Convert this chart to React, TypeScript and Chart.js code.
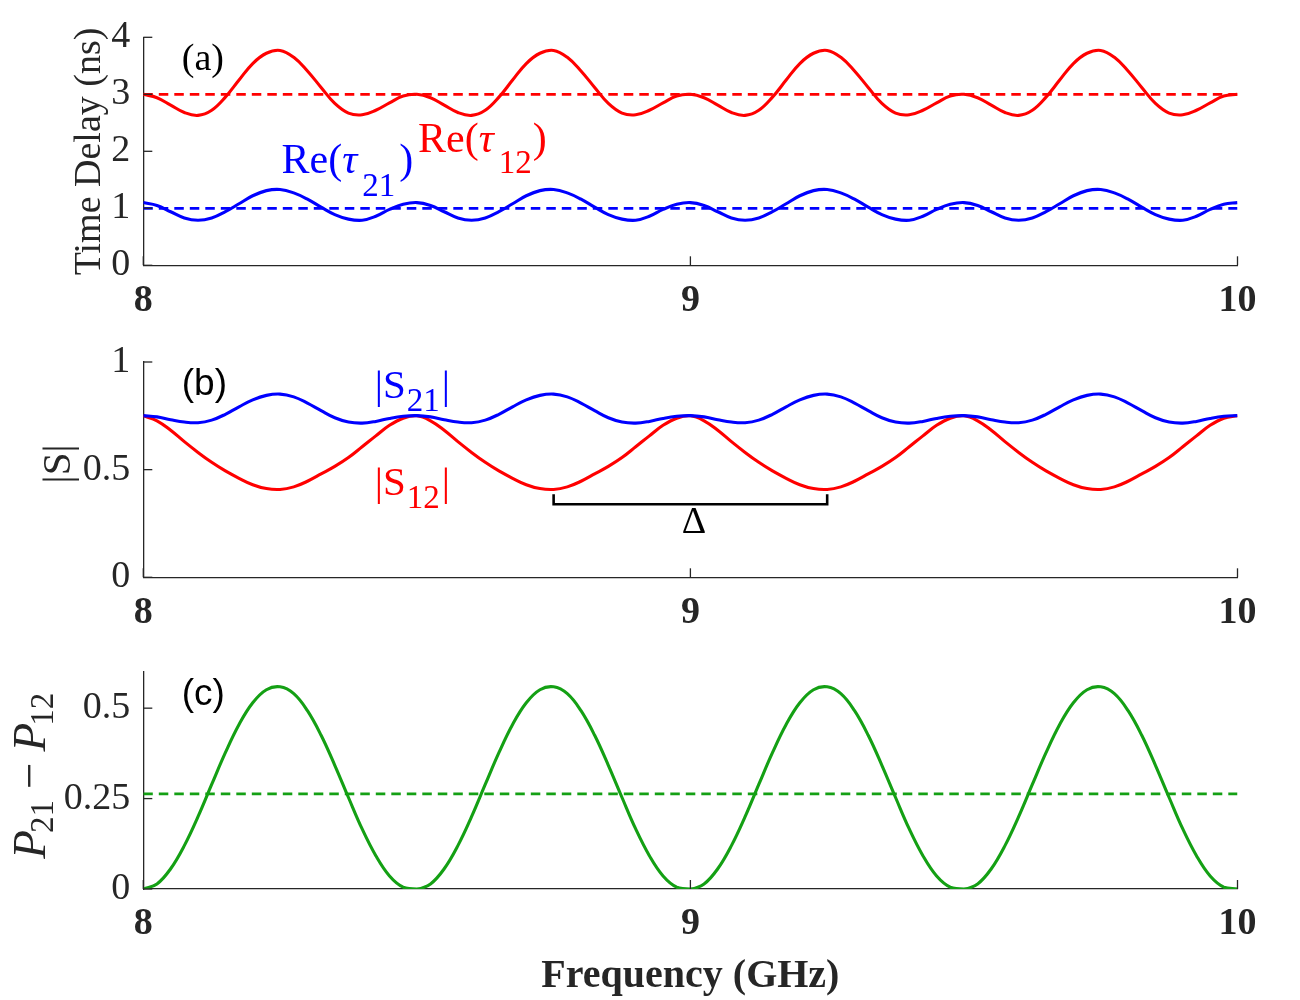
import React, { useEffect, useRef } from "react";
import { Chart, registerables } from "chart.js";

Chart.register(...registerables);

// ---------------- data ----------------
const FREQ = [
  8, 8.025, 8.05, 8.075, 8.1, 8.125, 8.15, 8.175, 8.2, 8.225,
  8.25, 8.275, 8.3, 8.325, 8.35, 8.375, 8.4, 8.425, 8.45, 8.475,
  8.5, 8.525, 8.55, 8.575, 8.6, 8.625, 8.65, 8.675, 8.7, 8.725,
  8.75, 8.775, 8.8, 8.825, 8.85, 8.875, 8.9, 8.925, 8.95, 8.975,
  9, 9.025, 9.05, 9.075, 9.1, 9.125, 9.15, 9.175, 9.2, 9.225,
  9.25, 9.275, 9.3, 9.325, 9.35, 9.375, 9.4, 9.425, 9.45, 9.475,
  9.5, 9.525, 9.55, 9.575, 9.6, 9.625, 9.65, 9.675, 9.7, 9.725,
  9.75, 9.775, 9.8, 9.825, 9.85, 9.875, 9.9, 9.925, 9.95, 9.975,
  10,
];

const TAU12 = [
  3.0, 2.94, 2.81, 2.68, 2.63, 2.72, 2.95, 3.25, 3.54, 3.72,
  3.77, 3.65, 3.41, 3.12, 2.84, 2.67, 2.64, 2.72, 2.85, 2.97,
  3.0, 2.94, 2.81, 2.68, 2.63, 2.72, 2.95, 3.25, 3.54, 3.72,
  3.77, 3.65, 3.41, 3.12, 2.84, 2.67, 2.64, 2.72, 2.85, 2.97,
  3.0, 2.94, 2.81, 2.68, 2.63, 2.72, 2.95, 3.25, 3.54, 3.72,
  3.77, 3.65, 3.41, 3.12, 2.84, 2.67, 2.64, 2.72, 2.85, 2.97,
  3.0, 2.94, 2.81, 2.68, 2.63, 2.72, 2.95, 3.25, 3.54, 3.72,
  3.77, 3.65, 3.41, 3.12, 2.84, 2.67, 2.64, 2.72, 2.85, 2.97,
  3.0,
];

const TAU21 = [
  1.1, 1.05, 0.94, 0.83, 0.79, 0.83, 0.94, 1.08, 1.22, 1.31,
  1.33, 1.27, 1.16, 1.02, 0.89, 0.81, 0.79, 0.86, 0.98, 1.07,
  1.1, 1.05, 0.94, 0.83, 0.79, 0.83, 0.94, 1.08, 1.22, 1.31,
  1.33, 1.27, 1.16, 1.02, 0.89, 0.81, 0.79, 0.86, 0.98, 1.07,
  1.1, 1.05, 0.94, 0.83, 0.79, 0.83, 0.94, 1.08, 1.22, 1.31,
  1.33, 1.27, 1.16, 1.02, 0.89, 0.81, 0.79, 0.86, 0.98, 1.07,
  1.1, 1.05, 0.94, 0.83, 0.79, 0.83, 0.94, 1.08, 1.22, 1.31,
  1.33, 1.27, 1.16, 1.02, 0.89, 0.81, 0.79, 0.86, 0.98, 1.07,
  1.1,
];

const S21 = [
  0.751, 0.745, 0.732, 0.721, 0.718, 0.73, 0.757, 0.792, 0.824, 0.845,
  0.851, 0.838, 0.809, 0.774, 0.741, 0.721, 0.716, 0.724, 0.738, 0.748,
  0.751, 0.745, 0.732, 0.721, 0.718, 0.73, 0.757, 0.792, 0.824, 0.845,
  0.851, 0.838, 0.809, 0.774, 0.741, 0.721, 0.716, 0.724, 0.738, 0.748,
  0.751, 0.745, 0.732, 0.721, 0.718, 0.73, 0.757, 0.792, 0.824, 0.845,
  0.851, 0.838, 0.809, 0.774, 0.741, 0.721, 0.716, 0.724, 0.738, 0.748,
  0.751, 0.745, 0.732, 0.721, 0.718, 0.73, 0.757, 0.792, 0.824, 0.845,
  0.851, 0.838, 0.809, 0.774, 0.741, 0.721, 0.716, 0.724, 0.738, 0.748,
  0.751,
];

const S12 = [
  0.75, 0.727, 0.683, 0.63, 0.58, 0.534, 0.494, 0.46, 0.43, 0.412,
  0.408, 0.42, 0.446, 0.48, 0.515, 0.556, 0.606, 0.657, 0.706, 0.739,
  0.75, 0.727, 0.683, 0.63, 0.58, 0.534, 0.494, 0.46, 0.43, 0.412,
  0.408, 0.42, 0.446, 0.48, 0.515, 0.556, 0.606, 0.657, 0.706, 0.739,
  0.75, 0.727, 0.683, 0.63, 0.58, 0.534, 0.494, 0.46, 0.43, 0.412,
  0.408, 0.42, 0.446, 0.48, 0.515, 0.556, 0.606, 0.657, 0.706, 0.739,
  0.75, 0.727, 0.683, 0.63, 0.58, 0.534, 0.494, 0.46, 0.43, 0.412,
  0.408, 0.42, 0.446, 0.48, 0.515, 0.556, 0.606, 0.657, 0.706, 0.739,
  0.75,
];

const PDIFF = [
  0, 0.014, 0.056, 0.12, 0.2, 0.289, 0.377, 0.455, 0.515, 0.551,
  0.559, 0.54, 0.493, 0.425, 0.342, 0.253, 0.166, 0.092, 0.036, 0.005,
  0, 0.014, 0.056, 0.12, 0.2, 0.289, 0.377, 0.455, 0.515, 0.551,
  0.559, 0.54, 0.493, 0.425, 0.342, 0.253, 0.166, 0.092, 0.036, 0.005,
  0, 0.014, 0.056, 0.12, 0.2, 0.289, 0.377, 0.455, 0.515, 0.551,
  0.559, 0.54, 0.493, 0.425, 0.342, 0.253, 0.166, 0.092, 0.036, 0.005,
  0, 0.014, 0.056, 0.12, 0.2, 0.289, 0.377, 0.455, 0.515, 0.551,
  0.559, 0.54, 0.493, 0.425, 0.342, 0.253, 0.166, 0.092, 0.036, 0.005,
  0,
];

const MEAN_X = [8, 10];
const TAU12_MEAN = [3, 3];
const TAU21_MEAN = [1, 1];
const PDIFF_MEAN = [0.263, 0.263];

const DELTA_X = [8.75, 8.75, 9.25, 9.25];
const DELTA_Y = [0.386, 0.339, 0.339, 0.386];

const X_TICKS = [8, 9, 10];
const TAU_TICKS = [0, 1, 2, 3, 4];
const S_TICKS = [0, 0.5, 1];
const P_TICKS = [0, 0.25, 0.5];

// ---------------- styles ----------------
const SERIF = "'Liberation Serif', 'Times New Roman', Times, serif";
const SANS = "'Liberation Sans', Arial, Helvetica, sans-serif";
const AXIS = "#262626";
const RED = "#ff0000";
const BLUE = "#0000ff";
const GREEN = "#14a014";
const BLACK = "#000000";

type Part = { t: string; font: string; color: string; dy?: number; gap?: number };
type Note = { x: number; y: number; parts: Part[]; center?: boolean };
type Deco = {
  notes: Note[];
  yTitle: { x: number; y: number; parts: Part[] };
  xTitle?: { y: number; parts: Part[] };
};

const f = (size: number, opts: { italic?: boolean; bold?: boolean; fam?: string } = {}) =>
  `${opts.italic ? "italic " : ""}${opts.bold ? "bold " : ""}${size}px ${opts.fam || SERIF}`;

function drawRich(ctx: CanvasRenderingContext2D, x: number, y: number, parts: Part[], center?: boolean) {
  let total = 0;
  const ws = parts.map((p) => {
    ctx.font = p.font;
    const w = ctx.measureText(p.t).width + (p.gap || 0);
    total += w;
    return w;
  });
  let cx = center ? x - total / 2 : x;
  parts.forEach((p, i) => {
    ctx.font = p.font;
    ctx.fillStyle = p.color;
    ctx.fillText(p.t, cx + (p.gap || 0), y + (p.dy || 0));
    cx += ws[i];
  });
}

function decoPlugin(deco: Deco) {
  return {
    id: "deco",
    afterDraw(chart: any) {
      const { ctx, chartArea: ca, scales } = chart;
      const xs = scales.x;
      const ys = scales.y;
      ctx.save();
      ctx.strokeStyle = AXIS;
      ctx.lineWidth = 1.3;
      xs.ticks.forEach((t: any) => {
        const px = xs.getPixelForValue(t.value);
        ctx.beginPath();
        ctx.moveTo(px, ca.bottom);
        ctx.lineTo(px, ca.bottom - 9);
        ctx.stroke();
      });
      ys.ticks.forEach((t: any) => {
        const py = ys.getPixelForValue(t.value);
        ctx.beginPath();
        ctx.moveTo(ca.left, py);
        ctx.lineTo(ca.left + 9, py);
        ctx.stroke();
      });
      ctx.textAlign = "left";
      ctx.textBaseline = "alphabetic";
      deco.notes.forEach((n) =>
        drawRich(ctx, xs.getPixelForValue(n.x), ys.getPixelForValue(n.y), n.parts, n.center)
      );
      const yt = deco.yTitle;
      ctx.save();
      ctx.translate(yt.x, yt.y);
      ctx.rotate(-Math.PI / 2);
      drawRich(ctx, 0, 0, yt.parts, true);
      ctx.restore();
      if (deco.xTitle) {
        drawRich(ctx, (ca.left + ca.right) / 2, deco.xTitle.y, deco.xTitle.parts, true);
      }
      ctx.restore();
    },
  };
}

const pts = (xs: number[], ys: number[]) => xs.map((x, i) => ({ x, y: ys[i] }));

const curve = (label: string, ys: number[], color: string) => ({
  label,
  data: pts(FREQ, ys),
  borderColor: color,
  backgroundColor: color,
  borderWidth: 3.1,
  pointRadius: 0,
  showLine: true,
  fill: false,
  tension: 0.4,
  borderJoinStyle: "round" as const,
});

const meanLine = (label: string, ys: number[], color: string) => ({
  label,
  data: pts(MEAN_X, ys),
  borderColor: color,
  backgroundColor: color,
  borderWidth: 2.8,
  borderDash: [9.5, 6],
  pointRadius: 0,
  showLine: true,
  fill: false,
});

function makeConfig(
  datasets: any[],
  yMin: number,
  yMax: number,
  yTicks: number[],
  padTop: number,
  xH: number,
  deco: Deco
): any {
  return {
    type: "scatter",
    data: { datasets },
    options: {
      responsive: false,
      animation: false,
      events: [],
      layout: { padding: { left: 0, right: 62.5, top: padTop, bottom: 0 } },
      plugins: { legend: { display: false }, tooltip: { enabled: false } },
      scales: {
        x: {
          type: "linear",
          min: 8,
          max: 10,
          afterBuildTicks: (s: any) => {
            s.ticks = X_TICKS.map((v) => ({ value: v }));
          },
          afterFit: (s: any) => {
            s.height = xH;
          },
          grid: { display: false, drawTicks: false },
          border: { display: true, color: AXIS, width: 1.3 },
          ticks: {
            color: AXIS,
            padding: 16.5,
            maxRotation: 0,
            autoSkip: false,
            font: { family: SERIF, size: 38, weight: "bold", lineHeight: 1 },
            callback: (v: any) => String(v),
          },
        },
        y: {
          type: "linear",
          min: yMin,
          max: yMax,
          afterBuildTicks: (s: any) => {
            s.ticks = yTicks.map((v) => ({ value: v }));
          },
          afterFit: (s: any) => {
            s.width = 143.3;
          },
          grid: { display: false, drawTicks: false },
          border: { display: true, color: AXIS, width: 1.3 },
          ticks: {
            color: AXIS,
            padding: 13,
            autoSkip: false,
            font: { family: SERIF, size: 38, lineHeight: 1 },
            callback: (v: any) => String(v),
          },
        },
      },
    },
    plugins: [decoPlugin(deco)],
  };
}

const decoA: Deco = {
  notes: [
    { x: 8.0703, y: 3.42, parts: [{ t: "(a)", font: f(38), color: BLACK }] },
    {
      x: 8.2528,
      y: 1.614,
      parts: [
        { t: "Re(", font: f(42), color: BLUE },
        { t: "τ", font: f(42, { italic: true }), color: BLUE },
        { t: "21", font: f(33), color: BLUE, dy: 22.7, gap: 5 },
        { t: ")", font: f(42), color: BLUE, gap: 4 },
      ],
    },
    {
      x: 8.5023,
      y: 1.993,
      parts: [
        { t: "Re(", font: f(42), color: RED },
        { t: "τ", font: f(42, { italic: true }), color: RED },
        { t: "12", font: f(33), color: RED, dy: 21.6, gap: 5 },
        { t: ")", font: f(42), color: RED, gap: 1 },
      ],
    },
  ],
  yTitle: { x: 100, y: 151.5, parts: [{ t: "Time Delay (ns)", font: f(38), color: AXIS }] },
};

const decoB: Deco = {
  notes: [
    { x: 8.0703, y: 0.845, parts: [{ t: "(b)", font: f(37, { fam: SANS }), color: BLACK }] },
    {
      x: 8.4232,
      y: 0.833,
      parts: [
        { t: "|S", font: f(41), color: BLUE },
        { t: "21", font: f(33), color: BLUE, dy: 13, gap: 1 },
        { t: "|", font: f(41), color: BLUE, gap: 2 },
      ],
    },
    {
      x: 8.4232,
      y: 0.383,
      parts: [
        { t: "|S", font: f(41), color: RED },
        { t: "12", font: f(33), color: RED, dy: 13.3, gap: 1 },
        { t: "|", font: f(41), color: RED, gap: 2 },
      ],
    },
    { x: 9.0066, y: 0.207, center: true, parts: [{ t: "Δ", font: f(38), color: BLACK }] },
  ],
  yTitle: { x: 70, y: 133.8, parts: [{ t: "|S|", font: f(41), color: AXIS }] },
};

const decoC: Deco = {
  notes: [{ x: 8.0703, y: 0.508, parts: [{ t: "(c)", font: f(37, { fam: SANS }), color: BLACK }] }],
  yTitle: {
    x: 45,
    y: 135.8,
    parts: [
      { t: "P", font: f(47, { italic: true }), color: AXIS },
      { t: "21", font: f(33), color: AXIS, dy: 8, gap: -3 },
      { t: "−", font: f(47), color: AXIS, gap: 11 },
      { t: "P", font: f(47, { italic: true }), color: AXIS, gap: 11 },
      { t: "12", font: f(33), color: AXIS, dy: 8, gap: -3 },
    ],
  },
  xTitle: { y: 347, parts: [{ t: "Frequency (GHz)", font: f(40, { bold: true }), color: AXIS }] },
};

export default function App() {
  const refA = useRef<HTMLCanvasElement>(null);
  const refB = useRef<HTMLCanvasElement>(null);
  const refC = useRef<HTMLCanvasElement>(null);

  useEffect(() => {
    const charts: Chart[] = [];
    charts.push(
      new Chart(
        refA.current as HTMLCanvasElement,
        makeConfig(
          [
            curve("Re(τ12)", TAU12, RED),
            curve("Re(τ21)", TAU21, BLUE),
            meanLine("mean τ12", TAU12_MEAN, RED),
            meanLine("mean τ21", TAU21_MEAN, BLUE),
          ],
          0,
          4,
          TAU_TICKS,
          37.3,
          64.7,
          decoA
        )
      )
    );
    charts.push(
      new Chart(
        refB.current as HTMLCanvasElement,
        makeConfig(
          [
            curve("|S21|", S21, BLUE),
            curve("|S12|", S12, RED),
            {
              label: "Δ",
              data: pts(DELTA_X, DELTA_Y),
              borderColor: BLACK,
              backgroundColor: BLACK,
              borderWidth: 2.6,
              pointRadius: 0,
              showLine: true,
              fill: false,
              tension: 0,
              borderJoinStyle: "miter",
            },
          ],
          0,
          1,
          S_TICKS,
          19.3,
          62.7,
          decoB
        )
      )
    );
    charts.push(
      new Chart(
        refC.current as HTMLCanvasElement,
        makeConfig(
          [curve("P21 − P12", PDIFF, GREEN), meanLine("mean", PDIFF_MEAN, GREEN)],
          0,
          0.6,
          P_TICKS,
          21.5,
          111,
          decoC
        )
      )
    );
    return () => charts.forEach((c) => c.destroy());
  }, []);

  return (
    <div style={{ position: "absolute", left: 0, top: 0, width: 1300, height: 1000, background: "#ffffff" }}>
      <canvas ref={refA} width={1300} height={330} style={{ position: "absolute", left: 0, top: 0, width: 1300, height: 330 }} />
      <canvas ref={refB} width={1300} height={310} style={{ position: "absolute", left: 0, top: 330, width: 1300, height: 310 }} />
      <canvas ref={refC} width={1300} height={360} style={{ position: "absolute", left: 0, top: 640, width: 1300, height: 360 }} />
    </div>
  );
}
